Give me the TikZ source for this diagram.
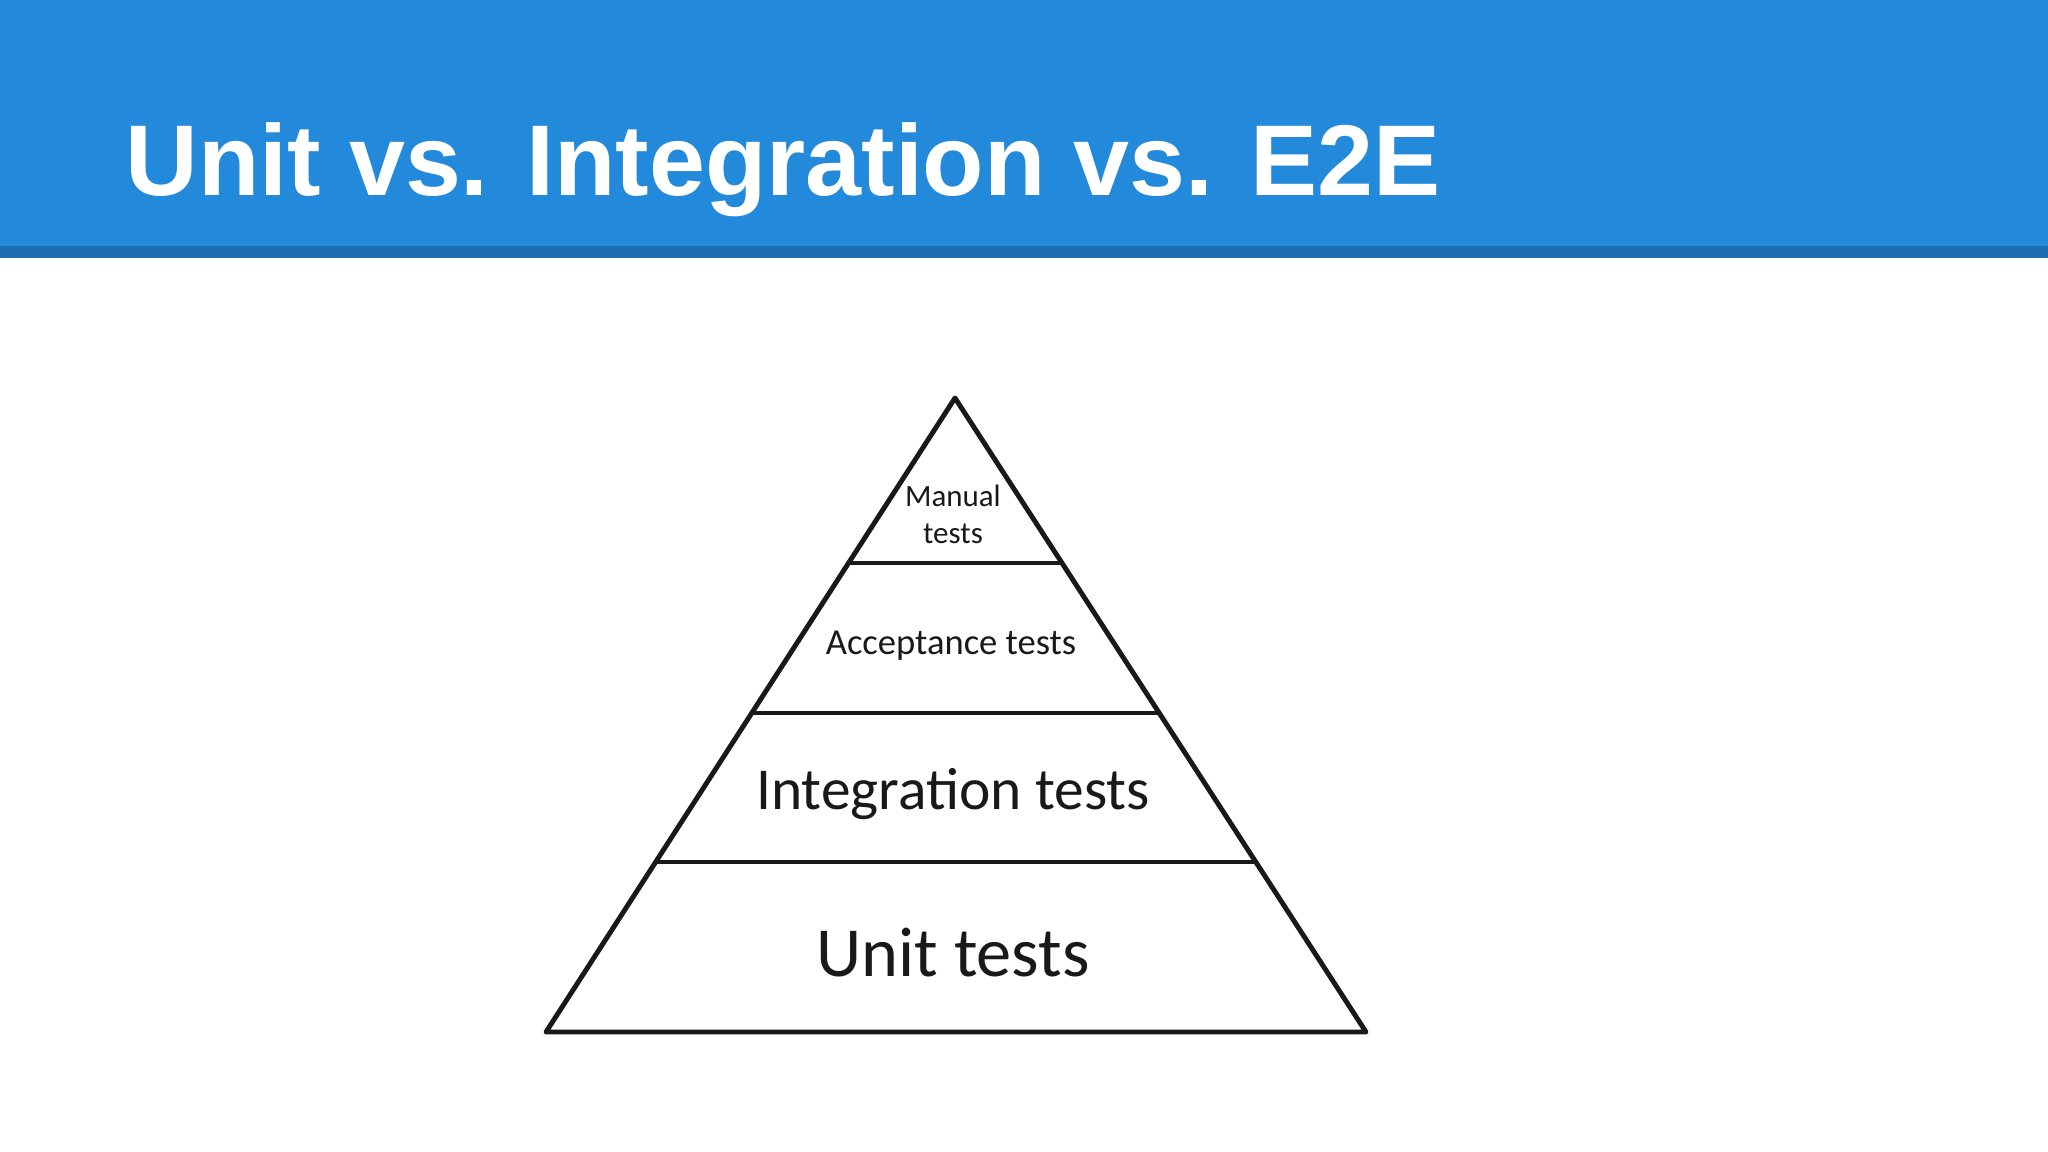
\documentclass[tikz,border=0pt]{standalone}
\usepackage{fontspec}
\setmainfont{Liberation Sans}
\newfontfamily\pyr{Carlito}
\definecolor{hdr}{HTML}{2389DB}
\definecolor{hdrdark}{HTML}{1E6DB0}
\begin{document}
\begin{tikzpicture}[x=0.01cm,y=-0.01cm,
  lvl/.style={inner sep=0pt,font=\pyr,text=black!90,align=center},
  edge/.style={draw=black!90,line width=1.4pt,line join=round}]
\useasboundingbox (0,0) rectangle (2048,1152);
\fill[white] (0,0) rectangle (2048,1152);
\fill[hdr] (0,0) rectangle (2048,246);
\fill[hdrdark] (0,246) rectangle (2048,258);
\node[anchor=base west,inner sep=0pt,text=white,font=\bfseries\fontsize{28.6}{34}\selectfont] (title) at (125,196) {Unit vs. Integration vs. E2E};
% pyramid
\draw[edge] (955,398) -- (1366,1032) -- (546,1032) -- cycle;
\draw[edge] (849,563) -- (1061,563);
\draw[edge] (752,713) -- (1158,713);
\draw[edge] (656,862) -- (1254,862);
\node[lvl,font=\pyr\fontsize{8.8}{10.5}\selectfont] (manual) at (953,514) {Manual\\tests};
\node[lvl,font=\pyr\fontsize{10.4}{12}\selectfont] (accept) at (951,646) {Acceptance tests};
\node[lvl,font=\pyr\fontsize{16.9}{20}\selectfont] (integ) at (953,794) {Integration tests};
\node[lvl,font=\pyr\fontsize{20}{24}\selectfont] (unit) at (953,953) {Unit tests};
\end{tikzpicture}
\end{document}
